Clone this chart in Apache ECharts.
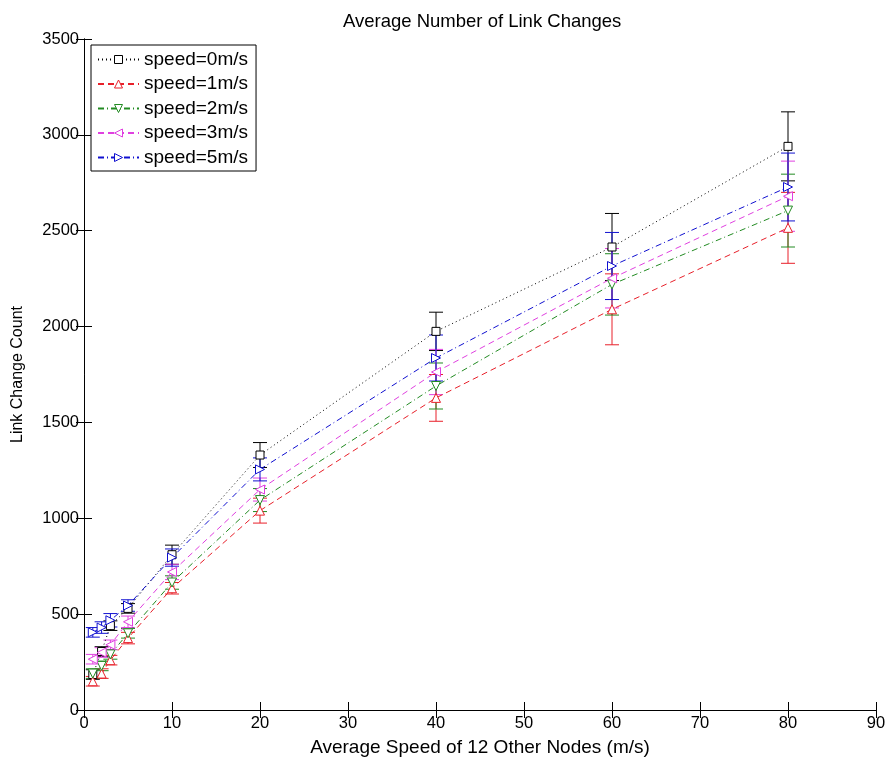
<!DOCTYPE html>
<html>
<head>
<meta charset="utf-8">
<script src="https://cdn.jsdelivr.net/npm/echarts@6/dist/echarts.min.js"></script>
<style>html,body{margin:0;padding:0;background:#fff}#c{width:891px;height:762px}</style>
</head>
<body>
<div id="c"></div>
<script>
const xVals = [1, 2, 3, 5, 10, 20, 40, 60, 80];
const names = ['speed=0m/s', 'speed=1m/s', 'speed=2m/s', 'speed=3m/s', 'speed=5m/s'];
const s0 = [185, 305, 440, 530, 810, 1330, 1975, 2415, 2940];
const s1 = [150, 190, 260, 375, 635, 1040, 1628, 2090, 2515];
const s2 = [190, 230, 290, 400, 665, 1095, 1690, 2220, 2605];
const s3 = [265, 300, 340, 460, 720, 1150, 1763, 2252, 2680];
const s5 = [405, 430, 468, 545, 795, 1255, 1836, 2316, 2728];
const e0 = [25, 25, 25, 25, 50, 65, 100, 175, 180];
const e1 = [25, 25, 25, 30, 30, 65, 122, 185, 185];
const e2 = [25, 25, 25, 25, 35, 60, 120, 160, 190];
const e3 = [25, 25, 25, 30, 40, 60, 118, 155, 183];
const e5 = [25, 30, 35, 30, 45, 60, 120, 175, 177];
const xTicks = [0, 10, 20, 30, 40, 50, 60, 70, 80, 90];
const yTicks = [0, 500, 1000, 1500, 2000, 2500, 3000, 3500];

const vals = [s0, s1, s2, s3, s5];
const errs = [e0, e1, e2, e3, e5];
const colors = ['#000000', '#e8202a', '#228b22', '#e040e0', '#1010d0'];
const dashes = [[1, 3], [6, 4], [6, 3, 1, 3], [6, 4], [6, 3, 1, 3]];
const symbols = ['rect', 'triangle', 'triangle', 'triangle', 'triangle'];
const rotates = [0, 0, 180, 90, -90];
const FONT = 'Liberation Sans, Arial, sans-serif';

const series = [];
vals.forEach((v, i) => {
  series.push({
    type: 'custom',
    name: 'err_' + i,
    xAxisIndex: 0, yAxisIndex: 0,
    data: xVals.map((x, k) => [x, v[k] - errs[i][k], v[k] + errs[i][k]]),
    encode: { x: 0, y: [1, 2] },
    z: 3,
    silent: true,
    renderItem: function (params, api) {
      const x = api.value(0);
      const lo = api.coord([x, api.value(1)]);
      const hi = api.coord([x, api.value(2)]);
      const w = 7;
      const st = { stroke: colors[i], lineWidth: 1 };
      return {
        type: 'group',
        children: [
          { type: 'line', shape: { x1: lo[0], y1: lo[1], x2: hi[0], y2: hi[1] }, style: st },
          { type: 'line', shape: { x1: lo[0] - w, y1: lo[1], x2: lo[0] + w, y2: lo[1] }, style: st },
          { type: 'line', shape: { x1: hi[0] - w, y1: hi[1], x2: hi[0] + w, y2: hi[1] }, style: st }
        ]
      };
    }
  });
  series.push({
    type: 'line',
    name: names[i],
    data: xVals.map((x, k) => [x, v[k]]),
    symbol: symbols[i],
    symbolRotate: rotates[i],
    symbolSize: i === 0 ? 8 : 9,
    showAllSymbol: true,
    z: 4,
    lineStyle: { color: colors[i], width: 1, type: dashes[i] },
    itemStyle: { color: '#ffffff', borderColor: colors[i], borderWidth: 1 },
    emphasis: { disabled: true },
    animation: false
  });
});

const chart = echarts.init(document.getElementById('c'), null, { renderer: 'canvas' });
const tickText = { color: '#000', fontSize: 16.5, fontFamily: FONT };
chart.setOption({
  animation: false,
  backgroundColor: '#fff',
  title: {
    text: 'Average Number of Link Changes',
    left: 338, top: 7,
    textStyle: { color: '#000', fontSize: 18.5, fontWeight: 'normal', fontFamily: FONT }
  },
  legend: {
    data: names,
    orient: 'vertical',
    left: 91, top: 45,
    itemWidth: 41, itemHeight: 10, itemGap: 5.5,
    padding: [5, 8, 4, 6],
    borderColor: '#000', borderWidth: 1, backgroundColor: '#fff',
    itemStyle: { borderWidth: 1 },
    textStyle: { color: '#000', fontSize: 19, lineHeight: 19, fontFamily: FONT }
  },
  grid: { left: 84, right: 15, top: 39, bottom: 52, containLabel: false },
  xAxis: [{
    type: 'value', min: 0, max: 90, interval: 10,
    name: 'Average Speed of 12 Other Nodes (m/s)', nameLocation: 'middle', nameGap: 28,
    nameTextStyle: { color: '#000', fontSize: 19, fontFamily: FONT },
    axisLine: { show: true, lineStyle: { color: '#000' } },
    axisTick: { show: true, inside: true, length: 8, lineStyle: { color: '#000' } },
    axisLabel: Object.assign({ margin: 5 }, tickText),
    splitLine: { show: false }
  }, {
    type: 'value', min: 0, max: 90, interval: 10, position: 'top',
    axisLine: { show: true, lineStyle: { color: '#000' } },
    axisTick: { show: true, inside: true, length: 8, lineStyle: { color: '#000' } },
    axisLabel: { show: false }, splitLine: { show: false }
  }],
  yAxis: [{
    type: 'value', min: 0, max: 3500, interval: 500,
    name: 'Link Change Count', nameLocation: 'middle', nameGap: 58, nameRotate: 90,
    nameTextStyle: { color: '#000', fontSize: 16, fontFamily: FONT },
    axisLine: { show: true, lineStyle: { color: '#000' } },
    axisTick: { show: true, inside: true, length: 8, lineStyle: { color: '#000' } },
    axisLabel: Object.assign({ margin: 5, formatter: v => String(v) }, tickText),
    splitLine: { show: false }
  }, {
    type: 'value', min: 0, max: 3500, interval: 500, position: 'right',
    axisLine: { show: true, lineStyle: { color: '#000' } },
    axisTick: { show: true, inside: true, length: 8, lineStyle: { color: '#000' } },
    axisLabel: { show: false }, splitLine: { show: false }
  }],
  series: series
});
</script>
</body>
</html>
